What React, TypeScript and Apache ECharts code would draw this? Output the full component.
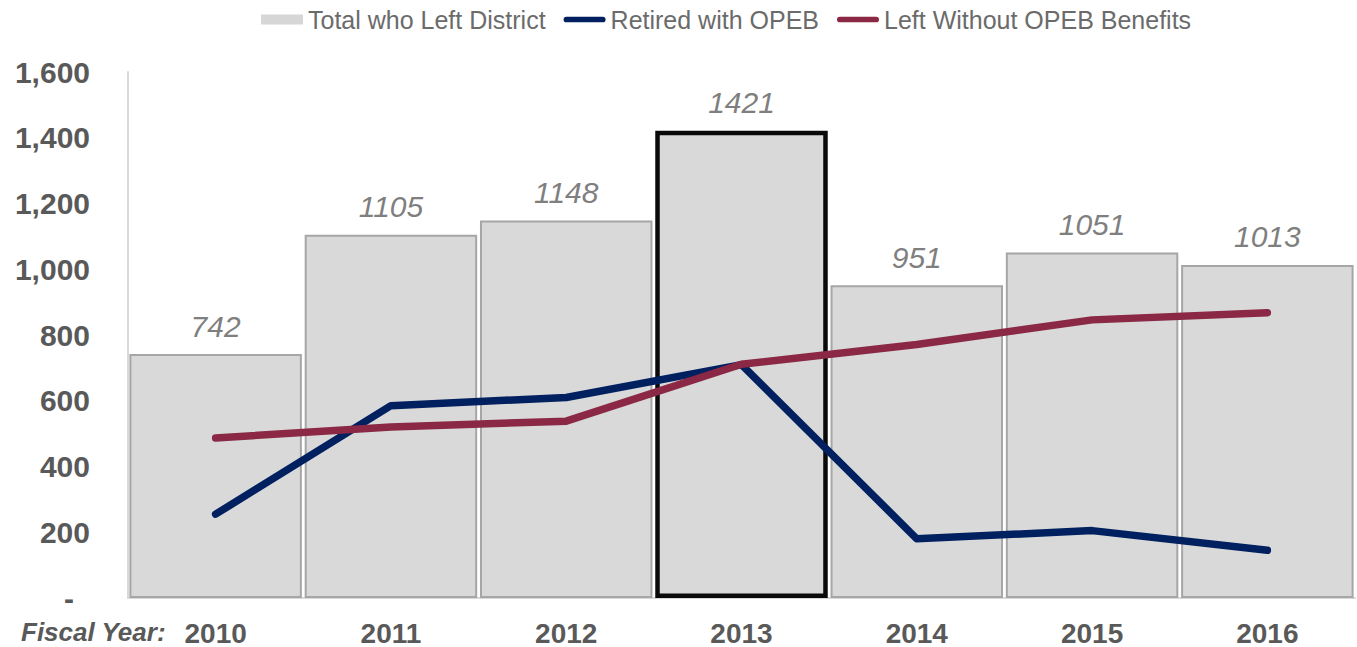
import React, { useEffect, useRef } from "react";
import * as echarts from "echarts";

const years = ["2010", "2011", "2012", "2013", "2014", "2015", "2016"];
const totalLeft = [742, 1105, 1148, 1421, 951, 1051, 1013];
const retiredWithOpeb = [255, 585, 610, 710, 180, 205, 145];
const leftWithoutOpeb = [487, 520, 538, 711, 771, 846, 868];
const highlightYear = "2013";

const FONT = "'Liberation Sans', Arial, Helvetica, sans-serif";
const LINE_ICON = "path://M3,0 L41,0 A3,3 0 0 1 41,6 L3,6 A3,3 0 0 1 3,0 Z";

export default function App() {
  const ref = useRef<HTMLDivElement>(null);

  useEffect(() => {
    if (!ref.current) return;
    const chart = echarts.init(ref.current, null, { renderer: "svg" });

    const barData = totalLeft.map((v, i) =>
      years[i] === highlightYear
        ? { value: v, itemStyle: { borderColor: "#0a0a0a", borderWidth: 4.5 } }
        : { value: v }
    );

    chart.setOption({
      animation: false,
      backgroundColor: "#ffffff",
      textStyle: { fontFamily: FONT },
      grid: { left: 128, right: 2, top: 72, bottom: 49, containLabel: false },
      legend: {
        left: 256,
        top: 2,
        itemWidth: 42,
        itemHeight: 10,
        itemGap: 18,
        textStyle: { fontFamily: FONT, fontSize: 25, color: "#6b6b6b" },
        data: [
          { name: "Total who Left District", icon: "rect", itemStyle: { color: "#d6d6d6", borderWidth: 0 } },
          { name: "Retired with OPEB", icon: LINE_ICON, itemStyle: { color: "#002060", borderWidth: 0 } },
          { name: "Left Without OPEB Benefits", icon: LINE_ICON, itemStyle: { color: "#8a2845", borderWidth: 0 } },
        ],
      },
      xAxis: {
        type: "category",
        data: years,
        axisLine: { show: true, lineStyle: { color: "#d9d9d9", width: 2 } },
        axisTick: { show: false },
        axisLabel: {
          margin: 21,
          fontFamily: FONT,
          fontSize: 28,
          fontWeight: "bold",
          color: "#595959",
        },
      },
      yAxis: {
        type: "value",
        min: 0,
        max: 1600,
        interval: 200,
        splitLine: { show: false },
        axisTick: { show: false },
        axisLine: { show: true, lineStyle: { color: "#d9d9d9", width: 2 } },
        axisLabel: {
          margin: 38,
          fontFamily: FONT,
          fontSize: 30,
          fontWeight: "bold",
          color: "#595959",
          formatter: (v: number) =>
            v === 0 ? "{dash|-}" : v.toLocaleString("en-US"),
          rich: {
            dash: {
              fontFamily: FONT,
              fontSize: 30,
              fontWeight: "bold",
              color: "#595959",
              padding: [0, 16, 0, 0],
            },
          },
        },
      },
      graphic: [
        {
          type: "text",
          left: 21,
          top: 619,
          style: {
            text: "Fiscal Year:",
            fontFamily: FONT,
            fontSize: 26,
            fontWeight: "bold",
            fontStyle: "italic",
            fill: "#595959",
          },
        },
      ],
      series: [
        {
          name: "Total who Left District",
          type: "bar",
          data: barData,
          barCategoryGap: "1.6%",
          itemStyle: { color: "#d9d9d9", borderColor: "#a6a6a6", borderWidth: 2 },
          label: {
            show: true,
            position: "top",
            distance: 13,
            fontFamily: FONT,
            fontSize: 30,
            fontStyle: "italic",
            color: "#7f7f7f",
          },
          z: 1,
        },
        {
          name: "Retired with OPEB",
          type: "line",
          data: retiredWithOpeb,
          symbol: "none",
          lineStyle: { color: "#002060", width: 7.5, cap: "round", join: "round" },
          itemStyle: { color: "#002060" },
          z: 3,
        },
        {
          name: "Left Without OPEB Benefits",
          type: "line",
          data: leftWithoutOpeb,
          symbol: "none",
          lineStyle: { color: "#8a2845", width: 7.5, cap: "round", join: "round" },
          itemStyle: { color: "#8a2845" },
          z: 4,
        },
      ],
    });

    return () => chart.dispose();
  }, []);

  return (
    <div
      ref={ref}
      style={{ position: "fixed", left: 0, top: 0, width: 1357, height: 647 }}
    />
  );
}
